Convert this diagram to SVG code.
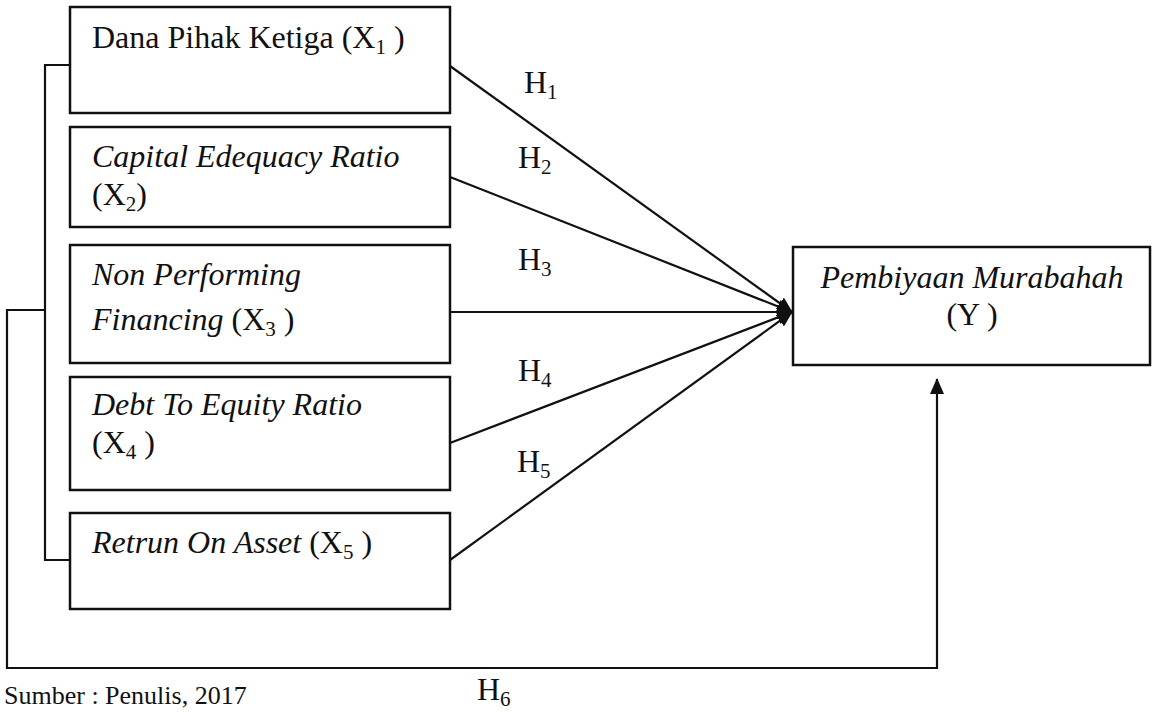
<svg xmlns="http://www.w3.org/2000/svg" width="1153" height="712" viewBox="0 0 1153 712">
  <style>
    .box { fill: #fff; stroke: #111; stroke-width: 2.5; }
    .wire { fill: none; stroke: #111; stroke-width: 2.2; }
    .t { font-family: "Liberation Serif", "Times New Roman", serif; font-size: 32px; fill: #111; }
    .i { font-style: italic; }
    .sub { font-size: 21px; }
    .note { font-size: 26px; }
  </style>
  <defs>
    <marker id="arrow" viewBox="0 0 16 14" refX="15" refY="7" markerWidth="16" markerHeight="14" markerUnits="userSpaceOnUse" orient="auto">
      <path d="M0,0 L16,7 L0,14 Z" fill="#111"/>
    </marker>
  </defs>

  <!-- connectors -->
  <g id="connectors">
    <!-- bracket joining the independent variables -->
    <path class="wire" d="M70,65 H45 V560 H70"/>
    <!-- simultaneous path H6 -->
    <path class="wire" d="M45,310 H7 V668 H937 V379" marker-end="url(#arrow)"/>
    <!-- partial paths H1..H5 -->
    <line class="wire" x1="450" y1="66" x2="792" y2="312" marker-end="url(#arrow)"/>
    <line class="wire" x1="450" y1="177" x2="792" y2="312" marker-end="url(#arrow)"/>
    <line class="wire" x1="450" y1="312" x2="792" y2="312" marker-end="url(#arrow)"/>
    <line class="wire" x1="450" y1="443" x2="792" y2="312" marker-end="url(#arrow)"/>
    <line class="wire" x1="450" y1="560" x2="792" y2="312" marker-end="url(#arrow)"/>
  </g>

  <!-- hypothesis labels -->
  <g id="labels">
    <text class="t" x="524" y="93">H<tspan class="sub" dy="6">1</tspan></text>
    <text class="t" x="518" y="168">H<tspan class="sub" dy="6">2</tspan></text>
    <text class="t" x="518" y="270">H<tspan class="sub" dy="6">3</tspan></text>
    <text class="t" x="518" y="381">H<tspan class="sub" dy="6">4</tspan></text>
    <text class="t" x="517" y="472">H<tspan class="sub" dy="6">5</tspan></text>
    <text class="t" x="477" y="700">H<tspan class="sub" dy="6">6</tspan></text>
  </g>

  <g id="x1">
    <rect class="box" x="70" y="7" width="380" height="106"/>
    <text class="t" x="92" y="48">Dana Pihak Ketiga (X<tspan class="sub" dy="6">1</tspan><tspan dy="-6"> )</tspan></text>
  </g>

  <g id="x2">
    <rect class="box" x="70" y="127" width="380" height="100"/>
    <text class="t i" x="92" y="167">Capital Edequacy Ratio</text>
    <text class="t" x="92" y="205">(X<tspan class="sub" dy="6">2</tspan><tspan dy="-6">)</tspan></text>
  </g>

  <g id="x3">
    <rect class="box" x="70" y="245" width="380" height="118"/>
    <text class="t i" x="92" y="285">Non Performing</text>
    <text class="t" x="92" y="330"><tspan class="i">Financing</tspan> (X<tspan class="sub" dy="6">3</tspan><tspan dy="-6"> )</tspan></text>
  </g>

  <g id="x4">
    <rect class="box" x="70" y="377" width="380" height="113"/>
    <text class="t i" x="92" y="415">Debt To Equity Ratio</text>
    <text class="t" x="92" y="453">(X<tspan class="sub" dy="6">4</tspan><tspan dy="-6"> )</tspan></text>
  </g>

  <g id="x5">
    <rect class="box" x="70" y="513" width="380" height="96"/>
    <text class="t" x="92" y="553"><tspan class="i">Retrun On Asset</tspan> (X<tspan class="sub" dy="6">5</tspan><tspan dy="-6"> )</tspan></text>
  </g>

  <g id="y">
    <rect class="box" x="793" y="247" width="357" height="118"/>
    <text class="t i" x="972" y="288" text-anchor="middle">Pembiyaan Murabahah</text>
    <text class="t" x="972" y="325" text-anchor="middle">(Y )</text>
  </g>

  <!-- source note -->
  <text class="t note" x="4" y="704">Sumber : Penulis, 2017</text>
</svg>
